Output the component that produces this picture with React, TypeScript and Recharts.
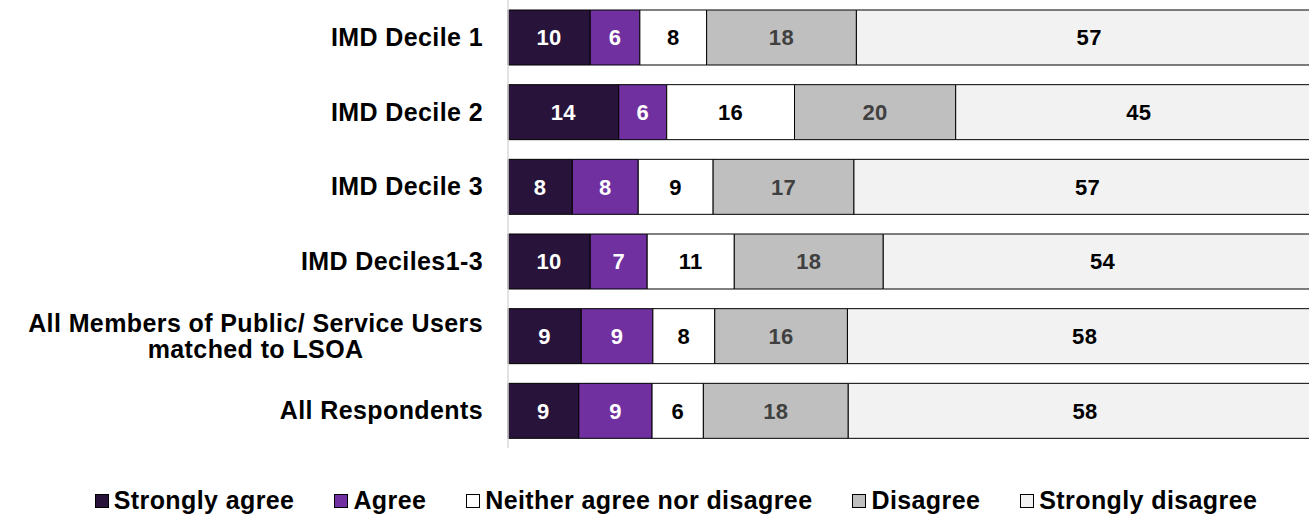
import React from "react";
import { BarChart, Bar, XAxis, YAxis, LabelList, Legend } from "recharts";

const categories = [
  "IMD Decile 1",
  "IMD Decile 2",
  "IMD Decile 3",
  "IMD Deciles1-3",
  "All Members of Public/ Service Users\nmatched to LSOA",
  "All Respondents",
];
const stronglyAgree = [10.1, 13.6, 7.9, 10.1, 9.0, 8.7];
const agree = [6.1, 5.9, 8.1, 7.0, 8.8, 9.0];
const neither = [8.2, 15.7, 9.2, 10.7, 7.6, 6.3];
const disagree = [18.4, 19.8, 17.3, 18.3, 16.3, 17.8];
const stronglyDisagree = [57.2, 45.0, 57.4, 53.9, 58.3, 58.2];

const seriesNames = [
  "Strongly agree",
  "Agree",
  "Neither agree nor disagree",
  "Disagree",
  "Strongly disagree",
];

const FONT = '"Liberation Sans", Arial, sans-serif';

const series = [
  { key: "sa", name: seriesNames[0], fill: "#28133A", text: "#FFFFFF" },
  { key: "a", name: seriesNames[1], fill: "#7030A0", text: "#FFFFFF" },
  { key: "n", name: seriesNames[2], fill: "#FFFFFF", text: "#000000" },
  { key: "d", name: seriesNames[3], fill: "#BFBFBF", text: "#404040" },
  { key: "sd", name: seriesNames[4], fill: "#F2F2F2", text: "#000000" },
];

const rows = categories.map((name, i) => ({
  name,
  sa: stronglyAgree[i],
  a: agree[i],
  n: neither[i],
  d: disagree[i],
  sd: stronglyDisagree[i],
}));

const TICK_SIZE = 25;
const TICK_SPACING = 0.4;

let ctx: CanvasRenderingContext2D | null = null;
function textWidth(s: string) {
  if (!ctx) ctx = document.createElement("canvas").getContext("2d");
  if (!ctx) return s.length * 13;
  ctx.font = `bold ${TICK_SIZE}px ${FONT}`;
  (ctx as any).letterSpacing = `${TICK_SPACING}px`;
  return ctx.measureText(s).width;
}

function CategoryTick(props: any) {
  const { x, y, payload } = props;
  const lines = String(payload.value).split("\n");
  const style = { fontFamily: FONT, fontWeight: "bold" as const, fontSize: TICK_SIZE, letterSpacing: TICK_SPACING };
  if (lines.length === 1) {
    return (
      <text x={x} y={y} dy="0.35em" textAnchor="end" fill="#000" style={style}>
        {lines[0]}
      </text>
    );
  }
  const w = Math.max(...lines.map(textWidth));
  const cx = x - w / 2;
  const lh = 26;
  const top = y - ((lines.length - 1) * lh) / 2;
  return (
    <text textAnchor="middle" fill="#000" style={style}>
      {lines.map((l, i) => (
        <tspan key={i} x={cx} y={top + i * lh} dy="0.35em">
          {l}
        </tspan>
      ))}
    </text>
  );
}

function LegendContent() {
  return (
    <div
      style={{
        display: "flex",
        justifyContent: "center",
        paddingLeft: 30,
        fontFamily: FONT,
        fontWeight: "bold",
        fontSize: 25,
        letterSpacing: 0.4,
        color: "#000",
      }}
    >
      {series.map((s, i) => (
        <span
          key={s.key}
          style={{ display: "inline-flex", alignItems: "center", marginRight: i < series.length - 1 ? 40 : 0 }}
        >
          <span
            style={{
              width: 14,
              height: 14,
              background: s.fill,
              border: "1px solid #000",
              boxSizing: "border-box",
              marginRight: 5,
            }}
          />
          {s.name}
        </span>
      ))}
    </div>
  );
}

export default function App() {
  return (
    <div style={{ position: "absolute", left: 0, top: 0, width: 1309, height: 518, overflow: "hidden", background: "#fff" }}>
      <BarChart
        width={1322}
        height={518}
        layout="vertical"
        data={rows}
        margin={{ top: 0, right: 0, left: 0, bottom: 41 }}
        barSize={55}
      >
        <XAxis type="number" domain={[0, 100]} hide />
        <YAxis
          type="category"
          dataKey="name"
          width={508}
          tickLine={false}
          tickSize={0}
          tickMargin={25}
          axisLine={{ stroke: "#D9D9D9", strokeWidth: 1.5 }}
          tick={<CategoryTick />}
          interval={0}
        />
        <Legend
          verticalAlign="bottom"
          content={<LegendContent />}
          wrapperStyle={{ top: 486, bottom: "auto", left: 0, width: 1322 }}
        />
        {series.map((s) => (
          <Bar
            key={s.key}
            dataKey={s.key}
            name={s.name}
            stackId="a"
            fill={s.fill}
            stroke="#000"
            strokeWidth={1}
            isAnimationActive={false}
          >
            <LabelList
              dataKey={s.key}
              position="center"
              formatter={(v: any) => Math.round(Number(v))}
              fill={s.text}
              style={{ fontFamily: FONT, fontWeight: "bold", fontSize: 22, letterSpacing: 0.4 }}
            />
          </Bar>
        ))}
      </BarChart>
    </div>
  );
}
